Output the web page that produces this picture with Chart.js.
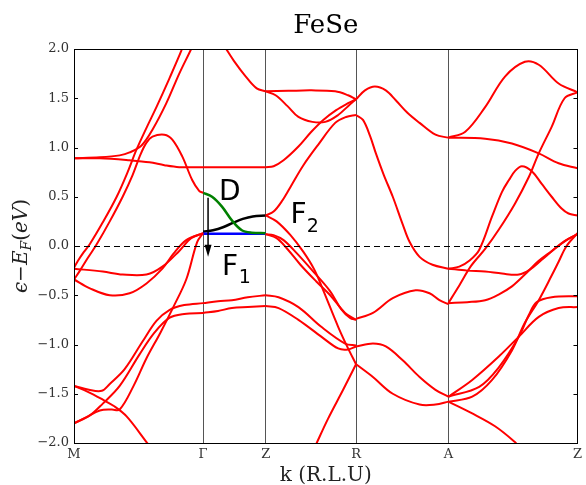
<!DOCTYPE html>
<html>
<head>
<meta charset="utf-8">
<script src="https://cdn.jsdelivr.net/npm/chart.js@4/dist/chart.umd.min.js"></script>
<style>
  html, body { margin: 0; padding: 0; background: #fff; }
  canvas { display: block; }
</style>
</head>
<body>
<canvas id="c" width="586" height="485"></canvas>
<script>
// k-path (high symmetry points) and energy ticks
const symK = [0, 1.30, 1.93, 2.84, 3.77, 5.07]
const symLabels = ["M", "Γ", "Z", "R", "A", "Z"]
const yTicks = [-2.0, -1.5, -1.0, -0.5, 0.0, 0.5, 1.0, 1.5, 2.0]

// bands, [k, E - EF]
// M - Γ
const mgFlat = [[0, 0.89], [0.26, 0.89], [0.56, 0.87], [0.76, 0.85], [0.91, 0.82], [1.06, 0.80], [1.30, 0.80], [1.60, 0.80], [1.93, 0.80]]
const mgRise = [[0, 0.89], [0.26, 0.90], [0.46, 0.92], [0.56, 0.95], [0.68, 1.02], [0.79, 1.18], [0.93, 1.45], [1.06, 1.75], [1.18, 2.0], [1.19, 2.03]]
const mgL1 = [[0, -0.22], [0.04, -0.15], [0.10, -0.06], [0.16, 0.02], [0.29, 0.24], [0.43, 0.50], [0.54, 0.75], [0.63, 0.98], [0.73, 1.20], [0.83, 1.41], [0.96, 1.70], [1.08, 1.98], [1.09, 2.02]]
const mgL2 = [[0, -0.34], [0.06, -0.25], [0.14, -0.12], [0.23, 0.02], [0.36, 0.25], [0.49, 0.50], [0.59, 0.72], [0.67, 0.93], [0.73, 1.05], [0.79, 1.11], [0.91, 1.13], [0.99, 1.08], [1.09, 0.91], [1.19, 0.67], [1.26, 0.56], [1.30, 0.54]]
const mgLowFlat = [[0, -0.23], [0.29, -0.26], [0.49, -0.29], [0.73, -0.29], [0.89, -0.21], [1.06, -0.05], [1.18, 0.08], [1.30, 0.13]]
const mgLowDip = [[0, -0.34], [0.16, -0.43], [0.36, -0.50], [0.56, -0.48], [0.73, -0.38], [0.89, -0.23], [1.00, -0.08], [1.13, 0.06], [1.30, 0.13]]
const mgDeep1 = [[0, -1.42], [0.15, -1.46], [0.28, -1.47], [0.36, -1.40], [0.51, -1.25], [0.69, -0.97], [0.83, -0.76], [0.96, -0.65], [1.11, -0.60], [1.30, -0.58]]
const mgDeep2 = [[0, -1.42], [0.14, -1.48], [0.29, -1.56], [0.41, -1.63], [0.53, -1.73], [0.73, -1.99], [0.76, -2.03]]
const mgDeep3 = [[0, -1.80], [0.16, -1.72], [0.29, -1.60], [0.46, -1.42], [0.66, -1.10], [0.81, -0.88], [0.96, -0.73], [1.11, -0.69], [1.30, -0.68]]
const mgDeep4 = [[0, -1.80], [0.12, -1.74], [0.26, -1.67], [0.38, -1.66], [0.46, -1.66], [0.60, -1.42], [0.73, -1.14], [0.87, -0.88], [1.00, -0.62], [1.13, -0.34], [1.24, 0.04], [1.30, 0.13]]
// Γ - Z
const gzTop = [[1.52, 2.02], [1.61, 1.88], [1.73, 1.72], [1.84, 1.60], [1.93, 1.57]]
const gzLowA = [[1.30, -0.58], [1.45, -0.56], [1.59, -0.55], [1.75, -0.52], [1.93, -0.50]]
const gzLowB = [[1.30, -0.68], [1.45, -0.66], [1.59, -0.63], [1.75, -0.62], [1.93, -0.61]]
const bandD = [[1.30, 0.54], [1.39, 0.50], [1.49, 0.40], [1.59, 0.26], [1.69, 0.16], [1.79, 0.135], [1.93, 0.13]]
const bandF1 = [[1.30, 0.125], [1.93, 0.125]]
const bandF2 = [[1.30, 0.145], [1.40, 0.16], [1.50, 0.19], [1.60, 0.235], [1.70, 0.275], [1.80, 0.30], [1.93, 0.31]]
// Z - R
const zrA = [[1.93, 0.12], [2.01, 0.11], [2.11, 0.06], [2.24, -0.07], [2.41, -0.26], [2.58, -0.46], [2.69, -0.64], [2.78, -0.73], [2.84, -0.75]]
const zrB = [[1.93, 0.12], [2.04, 0.08], [2.14, -0.02], [2.28, -0.19], [2.44, -0.36], [2.58, -0.50], [2.73, -0.68], [2.84, -0.75]]
const zrS = [[1.93, 0.31], [2.04, 0.25], [2.18, 0.11], [2.31, -0.06], [2.42, -0.24], [2.51, -0.45], [2.66, -0.82], [2.76, -1.04], [2.84, -1.20]]
const zrC = [[1.93, -0.50], [2.06, -0.52], [2.26, -0.62], [2.49, -0.82], [2.73, -0.99], [2.84, -1.01]]
const zrD = [[1.93, -0.61], [2.06, -0.63], [2.26, -0.75], [2.49, -0.92], [2.66, -1.04], [2.76, -1.05], [2.84, -1.02]]
const zrE = [[2.43, -2.03], [2.56, -1.75], [2.71, -1.46], [2.84, -1.20]]
const zrF = [[1.93, 0.31], [2.01, 0.35], [2.09, 0.45], [2.18, 0.60], [2.31, 0.82], [2.46, 1.03], [2.63, 1.25], [2.74, 1.31], [2.84, 1.33]]
const zrG = [[1.93, 0.80], [2.01, 0.81], [2.11, 0.87], [2.26, 1.01], [2.39, 1.16], [2.51, 1.28], [2.64, 1.38], [2.76, 1.45], [2.84, 1.49]]
const zrDip = [[1.93, 1.57], [2.03, 1.53], [2.15, 1.42], [2.26, 1.31], [2.40, 1.26], [2.53, 1.26], [2.66, 1.33], [2.76, 1.42], [2.84, 1.49]]
const zrFlat = [[1.93, 1.57], [2.16, 1.575], [2.39, 1.58], [2.63, 1.57], [2.76, 1.53], [2.84, 1.49]]
// R - A
const ra1 = [[2.84, 1.49], [2.93, 1.58], [3.03, 1.62], [3.14, 1.58], [3.24, 1.48], [3.36, 1.35], [3.48, 1.25], [3.64, 1.13], [3.77, 1.10]]
const ra2 = [[2.84, 1.33], [2.91, 1.28], [2.98, 1.12], [3.04, 0.94], [3.12, 0.72], [3.21, 0.50], [3.31, 0.22], [3.38, 0.04], [3.48, -0.11], [3.61, -0.19], [3.77, -0.23]]
const ra3 = [[2.84, -0.74], [3.01, -0.68], [3.21, -0.53], [3.44, -0.45], [3.58, -0.48], [3.68, -0.55], [3.77, -0.59]]
const ra4 = [[2.84, -1.02], [3.01, -0.99], [3.14, -1.02], [3.31, -1.16], [3.48, -1.33], [3.64, -1.46], [3.77, -1.53]]
const ra5 = [[2.84, -1.20], [3.01, -1.33], [3.21, -1.50], [3.48, -1.61], [3.64, -1.61], [3.77, -1.58]]
// A - Z
const az1 = [[3.77, 1.10], [4.14, 1.09], [4.41, 1.04], [4.68, 0.94], [4.88, 0.84], [5.07, 0.79]]
const az2 = [[3.77, 1.10], [3.94, 1.16], [4.14, 1.41], [4.34, 1.72], [4.54, 1.87], [4.68, 1.84], [4.88, 1.65], [5.07, 1.56]]
const az3 = [[3.77, -0.58], [3.88, -0.40], [4.00, -0.20], [4.14, -0.03], [4.28, 0.17], [4.44, 0.43], [4.58, 0.70], [4.68, 0.94], [4.81, 1.21], [4.94, 1.50], [5.07, 1.56]]
const az4 = [[3.77, -0.23], [3.88, -0.21], [3.98, -0.15], [4.08, -0.04], [4.21, 0.30], [4.31, 0.55], [4.38, 0.67], [4.44, 0.76], [4.51, 0.81], [4.61, 0.76], [4.71, 0.63], [4.81, 0.50], [4.91, 0.38], [4.98, 0.33], [5.07, 0.31]]
const az5 = [[3.77, -0.23], [3.96, -0.25], [4.14, -0.26], [4.31, -0.28], [4.48, -0.29], [4.59, -0.24], [4.71, -0.14], [4.84, -0.03], [4.96, 0.06], [5.07, 0.12]]
const az6 = [[3.77, -0.58], [3.96, -0.57], [4.14, -0.55], [4.28, -0.49], [4.41, -0.41], [4.54, -0.29], [4.68, -0.15], [4.81, -0.05], [4.94, 0.05], [5.07, 0.12]]
const az7 = [[3.77, -1.58], [4.01, -1.53], [4.21, -1.36], [4.41, -1.06], [4.54, -0.78], [4.68, -0.55], [4.81, -0.30], [4.88, -0.16], [4.96, 0.00], [5.07, 0.13]]
const az8 = [[3.77, -1.53], [4.01, -1.36], [4.28, -1.12], [4.48, -0.92], [4.68, -0.72], [4.88, -0.63], [5.07, -0.62]]
const az9 = [[3.77, -1.53], [4.08, -1.43], [4.28, -1.23], [4.48, -0.92], [4.58, -0.70], [4.66, -0.57], [4.81, -0.52], [5.07, -0.51]]
const az10 = [[3.77, -1.58], [4.01, -1.70], [4.24, -1.83], [4.44, -1.99], [4.47, -2.03]]

const redBands = [
  mgFlat, mgRise, mgL1, mgL2, mgLowFlat, mgLowDip, mgDeep1, mgDeep2, mgDeep3, mgDeep4,
  gzTop, gzLowA, gzLowB,
  zrA, zrB, zrS, zrC, zrD, zrE, zrF, zrG, zrDip, zrFlat,
  ra1, ra2, ra3, ra4, ra5,
  az1, az2, az3, az4, az5, az6, az7, az8, az9, az10
]

const serif = "'DejaVu Serif', serif"
const sans = "'DejaVu Sans', sans-serif"

function line(pts, color, width) {
  return {
    data: pts.map(([x, y]) => ({ x, y })),
    borderColor: color,
    borderWidth: width,
    pointRadius: 0,
    fill: false,
    tension: 0.35
  }
}

const datasets = redBands.map(b => line(b, "#ff0000", 2))
datasets.push(line(bandD, "#008000", 2.5))
datasets.push(line(bandF1, "#0000ff", 2.5))
datasets.push(line(bandF2, "#000000", 2.5))

// frame, ticks, zero line, texts and arrow
const decor = {
  id: "decor",
  afterDatasetsDraw(chart) {
    const { ctx, chartArea: a, scales: { x, y } } = chart
    ctx.save()
    // Fermi level
    ctx.strokeStyle = "#000"
    ctx.lineWidth = 1
    ctx.setLineDash([6, 4])
    ctx.beginPath()
    const y0 = Math.round(y.getPixelForValue(0)) + 0.5
    ctx.moveTo(a.left, y0)
    ctx.lineTo(a.right, y0)
    ctx.stroke()
    ctx.setLineDash([])
    // inward ticks
    yTicks.forEach(v => {
      const py = Math.round(y.getPixelForValue(v)) + 0.5
      ctx.beginPath()
      ctx.moveTo(a.left, py); ctx.lineTo(a.left + 4, py)
      ctx.moveTo(a.right, py); ctx.lineTo(a.right - 4, py)
      ctx.stroke()
    })
    // frame
    ctx.strokeRect(Math.round(a.left) + 0.5, Math.round(a.top) + 0.5, Math.round(a.right - a.left), Math.round(a.bottom - a.top))

    // arrow Γ -> below EF
    const ax = x.getPixelForValue(1.35)
    const yStart = y.getPixelForValue(0.49)
    const yTip = y.getPixelForValue(-0.11)
    ctx.lineWidth = 1.5
    ctx.beginPath()
    ctx.moveTo(ax, yStart)
    ctx.lineTo(ax, yTip - 10)
    ctx.stroke()
    ctx.fillStyle = "#000"
    ctx.beginPath()
    ctx.moveTo(ax - 3.5, yTip - 12)
    ctx.lineTo(ax + 3.5, yTip - 12)
    ctx.lineTo(ax, yTip)
    ctx.closePath()
    ctx.fill()

    // band labels
    ctx.textBaseline = "alphabetic"
    ctx.textAlign = "left"
    ctx.font = "28px " + sans
    ctx.fillText("D", x.getPixelForValue(1.46), y.getPixelForValue(0.47))
    ctx.fillText("F", x.getPixelForValue(2.18), y.getPixelForValue(0.23))
    ctx.fillText("F", x.getPixelForValue(1.49), y.getPixelForValue(-0.295))
    ctx.font = "19px " + sans
    ctx.fillText("2", x.getPixelForValue(2.345), y.getPixelForValue(0.14))
    ctx.fillText("1", x.getPixelForValue(1.66), y.getPixelForValue(-0.375))
    ctx.restore()
  },
  afterDraw(chart) {
    const { ctx, chartArea: a } = chart
    const cx = (a.left + a.right) / 2
    ctx.save()
    ctx.fillStyle = "#000"
    ctx.textAlign = "center"
    ctx.textBaseline = "alphabetic"
    ctx.font = "26px " + serif
    ctx.fillText("FeSe", cx, 33)
    ctx.fillStyle = "#222"
    ctx.font = "20px " + serif
    ctx.fillText("k (R.L.U)", cx, 481)

    // y label with subscript
    const parts = [
      { t: "ϵ", f: "italic 20px " + serif, dy: 0 },
      { t: "−", f: "20px " + serif, dy: 0 },
      { t: "E", f: "italic 20px " + serif, dy: 0 },
      { t: "F", f: "italic 14px " + serif, dy: 4 },
      { t: "(", f: "20px " + serif, dy: 0 },
      { t: "eV", f: "italic 20px " + serif, dy: 0 },
      { t: ")", f: "20px " + serif, dy: 0 }
    ]
    let total = 0
    parts.forEach(p => { ctx.font = p.f; p.w = ctx.measureText(p.t).width; total += p.w })
    ctx.translate(27, (a.top + a.bottom) / 2)
    ctx.rotate(-Math.PI / 2)
    ctx.textAlign = "left"
    let px = -total / 2
    parts.forEach(p => {
      ctx.font = p.f
      ctx.fillText(p.t, px, p.dy)
      px += p.w
    })
    ctx.restore()
  }
}

new Chart(document.getElementById("c"), {
  type: "line",
  data: { datasets },
  options: {
    responsive: false,
    devicePixelRatio: 1,
    animation: false,
    events: [],
    layout: { padding: { top: 49, right: 5, left: 0, bottom: 0 } },
    plugins: { legend: { display: false }, tooltip: { enabled: false }, title: { display: false } },
    scales: {
      x: {
        type: "linear",
        min: 0,
        max: 5.07,
        afterBuildTicks: s => { s.ticks = symK.map(v => ({ value: v })) },
        afterFit: s => { s.height = 42 },
        ticks: {
          autoSkip: false,
          maxRotation: 0,
          padding: 4,
          color: "#333",
          font: { family: serif, size: 13 },
          callback: (v, i) => symLabels[i]
        },
        grid: { color: "#555", lineWidth: 1, drawTicks: false },
        border: { display: false }
      },
      y: {
        type: "linear",
        min: -2,
        max: 2,
        afterBuildTicks: s => { s.ticks = yTicks.map(v => ({ value: v })) },
        afterFit: s => { s.width = 74 },
        ticks: {
          padding: 5,
          color: "#333",
          font: { family: serif, size: 13 },
          callback: v => v.toFixed(1).replace("-", "−")
        },
        grid: { display: false, drawTicks: false },
        border: { display: false }
      }
    }
  },
  plugins: [decor]
})
</script>
</body>
</html>
